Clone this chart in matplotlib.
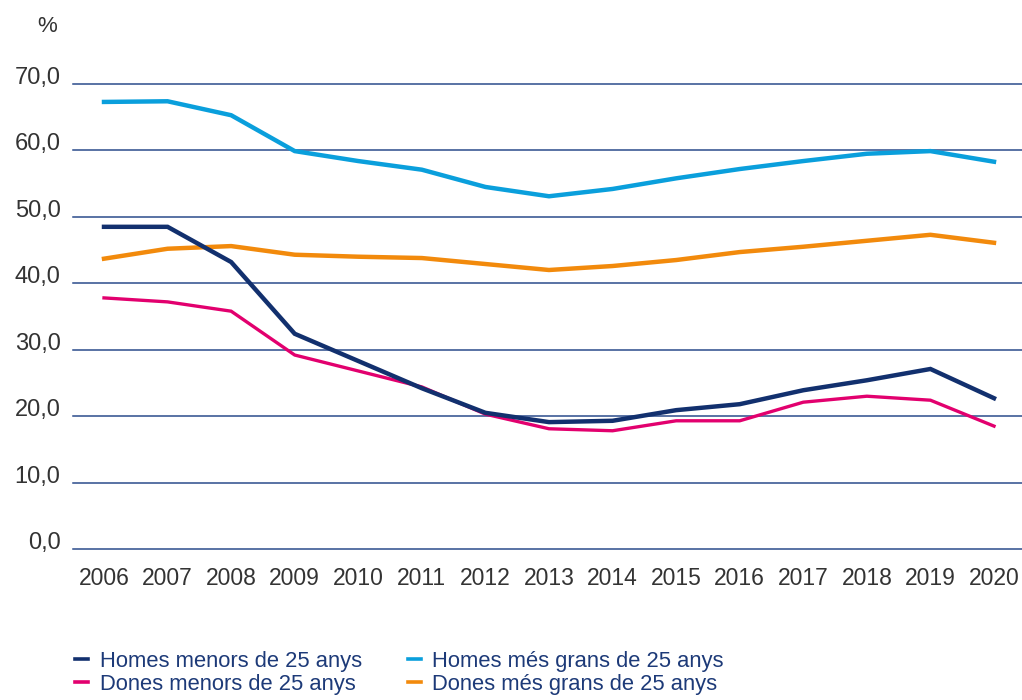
import matplotlib
matplotlib.use("Agg")
import matplotlib.pyplot as plt
from matplotlib.lines import Line2D

years = list(range(2006, 2021))
homes_menors = [48.5, 48.5, 43.2, 32.4, 28.3, 24.2, 20.5, 19.1, 19.3, 20.9, 21.8, 23.9, 25.4, 27.1, 22.7]
homes_grans = [67.3, 67.4, 65.3, 59.9, 58.4, 57.1, 54.5, 53.1, 54.2, 55.8, 57.2, 58.4, 59.5, 59.9, 58.3]
dones_menors = [37.8, 37.2, 35.8, 29.2, 26.8, 24.4, 20.3, 18.1, 17.8, 19.3, 19.3, 22.1, 23.0, 22.4, 18.5]
dones_grans = [43.7, 45.2, 45.6, 44.3, 44.0, 43.8, 42.9, 42.0, 42.6, 43.5, 44.7, 45.5, 46.4, 47.3, 46.1]
yticks = [0, 10, 20, 30, 40, 50, 60, 70]
labels = ["Homes menors de 25 anys", "Dones menors de 25 anys",
          "Homes més grans de 25 anys", "Dones més grans de 25 anys"]

c_hm = "#12306e"
c_hg = "#0a9fdc"
c_dm = "#e2006e"
c_dg = "#f28a0c"
grid_c = "#2b4c8c"
text_c = "#333333"
leg_c = "#1d3a78"

plt.rcParams['font.family'] = ['Liberation Sans', 'DejaVu Sans']

fig = plt.figure(figsize=(10.22, 7.0), dpi=100)
ax = fig.add_axes([73/1022, 1-549/700, (1022-73)/1022, (549-84)/700])

for yv in yticks:
    ax.axhline(yv, color=grid_c, lw=1.1, zorder=1, clip_on=False)

ax.plot(years, homes_grans, color=c_hg, lw=3.2, zorder=3, solid_joinstyle='miter')
ax.plot(years, dones_grans, color=c_dg, lw=3.2, zorder=3, solid_joinstyle='miter')
ax.plot(years, dones_menors, color=c_dm, lw=2.4, zorder=3, solid_joinstyle='miter')
ax.plot(years, homes_menors, color=c_hm, lw=3.2, zorder=4, solid_joinstyle='miter')

ax.set_xlim(2006 - 31/63.57, 2020 + 28/63.57)
ax.set_ylim(0, 70)
for s in ax.spines.values():
    s.set_visible(False)
ax.set_yticks(yticks)
ax.set_yticklabels([f"{v:.1f}".replace(".", ",") for v in yticks])
ax.set_xticks(years)
ax.set_xticklabels([str(y) for y in years])
ax.tick_params(axis='y', length=0, labelsize=17, labelcolor=text_c, pad=9)
ax.tick_params(axis='x', length=0, labelsize=16.5, labelcolor=text_c, pad=13)
for lbl in ax.get_yticklabels():
    lbl.set_verticalalignment('baseline')

fig.text(47/1022, 1-27/700, "%", fontsize=16, color=text_c, ha='center', va='center')

handles = [Line2D([], [], color=c, lw=2.6) for c in (c_hm, c_dm, c_hg, c_dg)]
leg = fig.legend(handles, labels, ncol=2, loc='upper left',
                 bbox_to_anchor=(64/1022, 1-640/700), frameon=False,
                 fontsize=15.8, handlelength=0.6, handletextpad=0.52,
                 columnspacing=2.1, labelspacing=0.1, borderpad=0)
for t in leg.get_texts():
    t.set_color(leg_c)

fig.savefig("out.png", dpi=100)
